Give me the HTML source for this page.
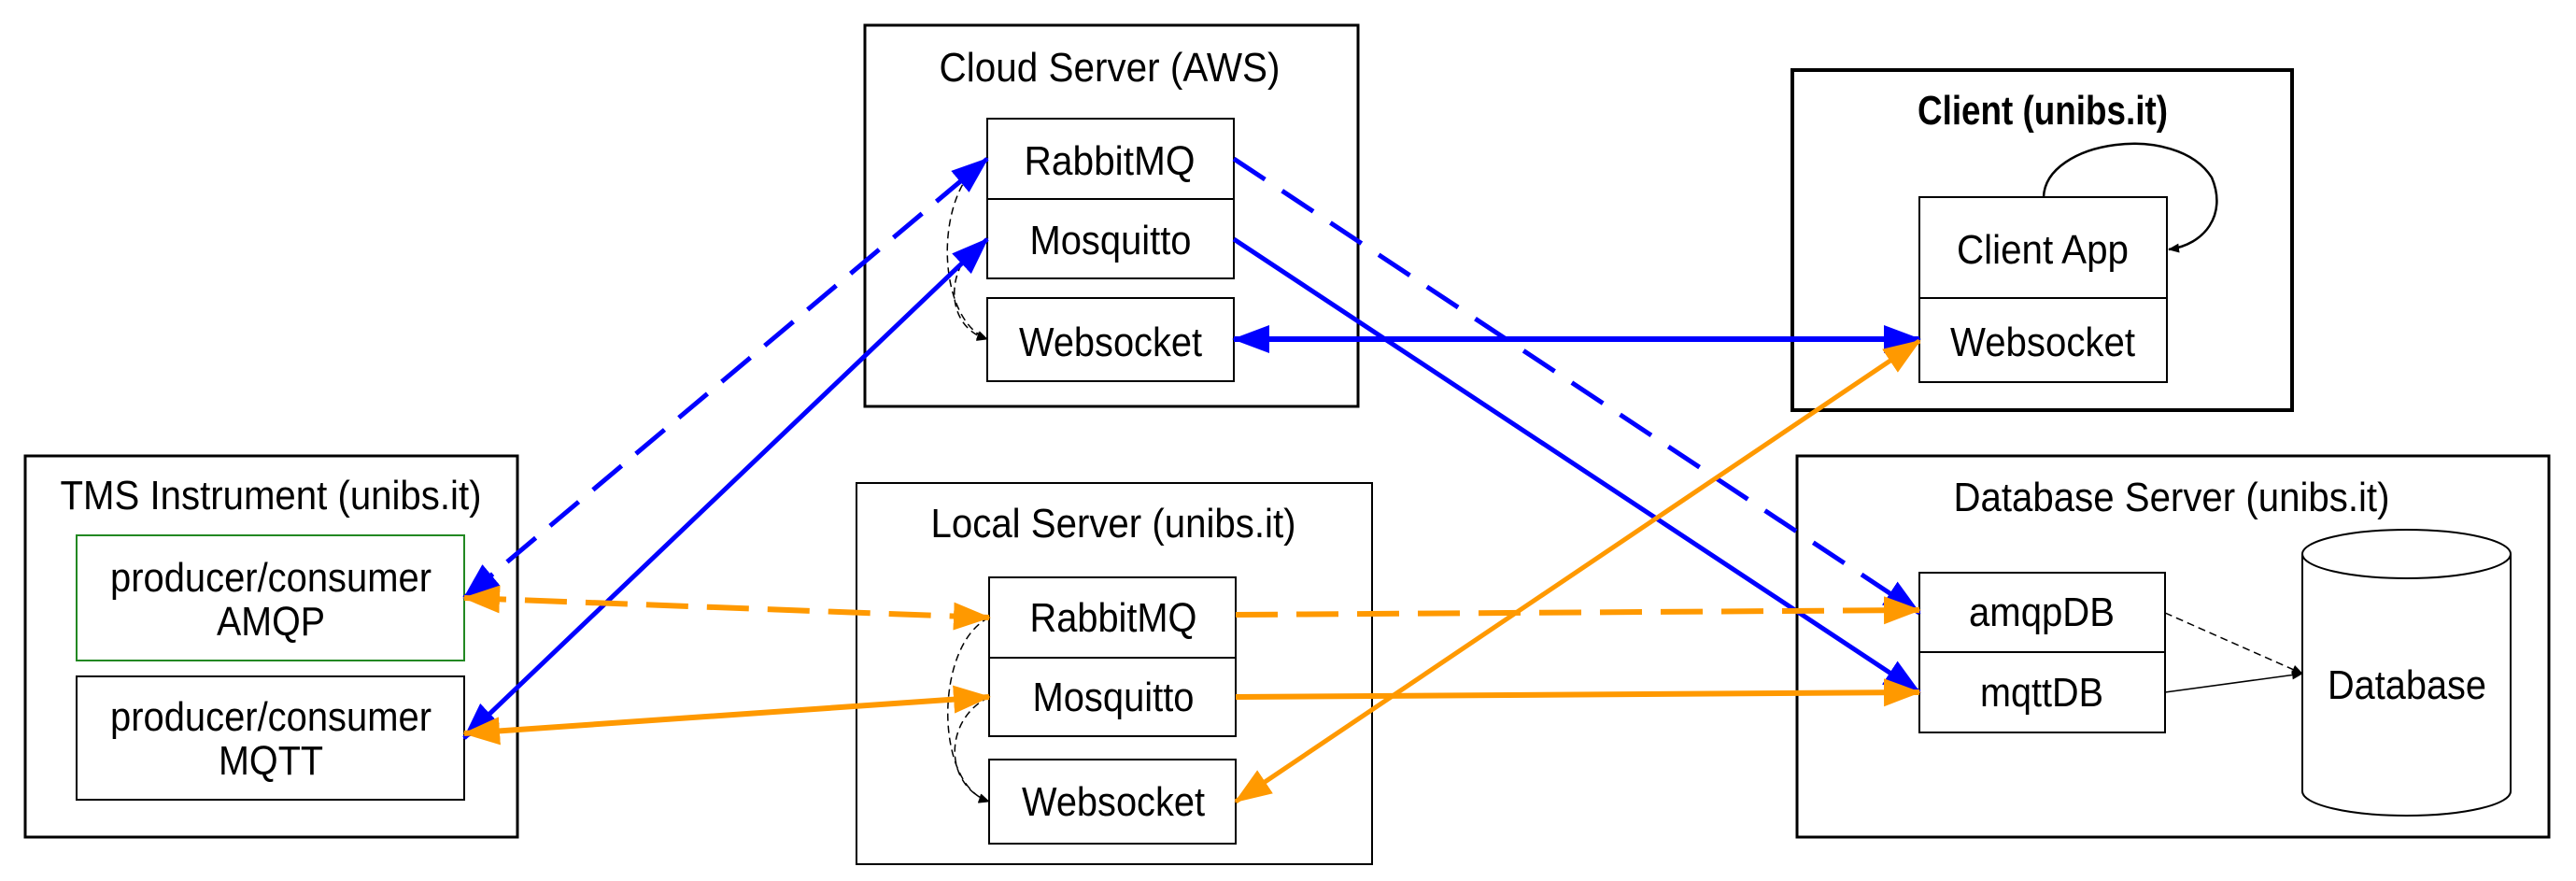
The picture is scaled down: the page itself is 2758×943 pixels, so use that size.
<!DOCTYPE html>
<html><head><meta charset="utf-8"><style>html,body{margin:0;padding:0;background:#fff}svg{display:block}</style></head>
<body>
<svg width="2758" height="943" viewBox="0 0 2758 943" xmlns="http://www.w3.org/2000/svg" font-family="Liberation Sans, Arial, sans-serif" font-size="44">
<defs>
<marker id="bh" markerUnits="userSpaceOnUse" markerWidth="40" markerHeight="30" refX="38" refY="15" orient="auto-start-reverse"><path d="M0,0 L40,15 L0,30 Z" fill="#0000ff"/></marker>
<marker id="oh" markerUnits="userSpaceOnUse" markerWidth="40" markerHeight="30" refX="38" refY="15" orient="auto-start-reverse"><path d="M0,0 L40,15 L0,30 Z" fill="#ff9900"/></marker>
<marker id="kh" markerUnits="userSpaceOnUse" markerWidth="12" markerHeight="10" refX="11" refY="5" orient="auto"><path d="M0,0 L12,5 L0,10 Z" fill="#000"/></marker>
</defs>
<g fill="#fff" stroke="#000" stroke-width="2">
<rect x="926" y="27" width="528" height="408" stroke-width="3"/>
<rect x="27" y="488" width="527" height="408" stroke-width="3"/>
<rect x="917" y="517" width="552" height="408" stroke-width="2"/>
<rect x="1919" y="75" width="535" height="364" stroke-width="4"/>
<rect x="1924" y="488" width="805" height="408" stroke-width="3"/>
<rect x="1057" y="127" width="264" height="86"/>
<rect x="1057" y="213" width="264" height="85"/>
<rect x="1057" y="319" width="264" height="89"/>
<rect x="82" y="573" width="415" height="134" stroke="#228822"/>
<rect x="82" y="724" width="415" height="132"/>
<rect x="1059" y="618" width="264" height="86"/>
<rect x="1059" y="704" width="264" height="84"/>
<rect x="1059" y="813" width="264" height="90"/>
<rect x="2055" y="211" width="265" height="108"/>
<rect x="2055" y="319" width="265" height="90"/>
<rect x="2055" y="613" width="263" height="85"/>
<rect x="2055" y="698" width="263" height="86"/>
<path d="M2465,593 L2465,847 A111.5,26 0 0 0 2688,847 L2688,593"/>
<ellipse cx="2576.5" cy="593" rx="111.5" ry="26"/>
</g>
<!-- thin black connectors -->
<g fill="none" stroke="#000" stroke-width="1.5">
<path d="M1057,170 C1000,200 1000,340 1057,363" stroke-dasharray="8,5" marker-end="url(#kh)"/>
<path d="M1057,256 C1010,280 1010,350 1057,363" stroke-dasharray="8,5" marker-end="url(#kh)"/>
<path d="M1059,661 C1000,690 1000,840 1059,858" stroke-dasharray="8,5" marker-end="url(#kh)"/>
<path d="M1059,746 C1010,770 1010,840 1059,858" stroke-dasharray="8,5" marker-end="url(#kh)"/>
<path d="M2318,656 L2465,721" stroke-dasharray="8,5" marker-end="url(#kh)"/>
<path d="M2318,741 L2465,721" marker-end="url(#kh)"/>
<path d="M2188,211 C2190,150 2330,130 2368,190 C2385,230 2360,262 2322,267" stroke-width="2.5" marker-end="url(#kh)"/>
</g>
<!-- blue -->
<g fill="none" stroke="#0000ff" stroke-width="5">
<path d="M497,640 L1057,170" stroke-dasharray="40,20" marker-start="url(#bh)" marker-end="url(#bh)"/>
<path d="M497,790 L1057,256" marker-start="url(#bh)" marker-end="url(#bh)"/>
<path d="M1321,170 L2055,656" stroke-dasharray="40,22" marker-end="url(#bh)"/>
<path d="M1321,256 L2055,741" marker-end="url(#bh)"/>
<path d="M1321,363 L2055,363" stroke-width="6" marker-start="url(#bh)" marker-end="url(#bh)"/>
</g>
<!-- orange -->
<g fill="none" stroke="#ff9900" stroke-width="6">
<path d="M497,640 L1059,661" stroke-dasharray="45,20" marker-start="url(#oh)" marker-end="url(#oh)"/>
<path d="M497,785 L1059,746" marker-start="url(#oh)" marker-end="url(#oh)"/>
<path d="M1323,658 L2055,653" stroke-dasharray="45,20" marker-end="url(#oh)"/>
<path d="M1323,746 L2055,741" marker-end="url(#oh)"/>
<path d="M1323,858 L2055,365" stroke-width="5" marker-start="url(#oh)" marker-end="url(#oh)"/>
</g>
<g fill="#000" text-anchor="middle" lengthAdjust="spacingAndGlyphs">
<text x="1188" y="87" textLength="365" lengthAdjust="spacingAndGlyphs">Cloud Server (AWS)</text>
<text x="1188" y="187" textLength="183" lengthAdjust="spacingAndGlyphs">RabbitMQ</text>
<text x="1189" y="272" textLength="173" lengthAdjust="spacingAndGlyphs">Mosquitto</text>
<text x="1189" y="381" textLength="196" lengthAdjust="spacingAndGlyphs">Websocket</text>
<text x="290" y="545" textLength="451" lengthAdjust="spacingAndGlyphs">TMS Instrument (unibs.it)</text>
<text x="290" y="633" textLength="344" lengthAdjust="spacingAndGlyphs">producer/consumer</text>
<text x="290" y="680" textLength="116" lengthAdjust="spacingAndGlyphs">AMQP</text>
<text x="290" y="782" textLength="344" lengthAdjust="spacingAndGlyphs">producer/consumer</text>
<text x="290" y="829" textLength="112" lengthAdjust="spacingAndGlyphs">MQTT</text>
<text x="1192" y="575" textLength="391" lengthAdjust="spacingAndGlyphs">Local Server (unibs.it)</text>
<text x="1192" y="676" textLength="179" lengthAdjust="spacingAndGlyphs">RabbitMQ</text>
<text x="1192" y="761" textLength="173" lengthAdjust="spacingAndGlyphs">Mosquitto</text>
<text x="1192" y="873" textLength="196" lengthAdjust="spacingAndGlyphs">Websocket</text>
<text x="2187" y="133" textLength="268" lengthAdjust="spacingAndGlyphs" font-weight="bold">Client (unibs.it)</text>
<text x="2187" y="282" textLength="184" lengthAdjust="spacingAndGlyphs">Client App</text>
<text x="2187" y="381" textLength="198" lengthAdjust="spacingAndGlyphs">Websocket</text>
<text x="2325" y="547" textLength="467" lengthAdjust="spacingAndGlyphs">Database Server (unibs.it)</text>
<text x="2186" y="670" textLength="156" lengthAdjust="spacingAndGlyphs">amqpDB</text>
<text x="2186" y="756" textLength="132" lengthAdjust="spacingAndGlyphs">mqttDB</text>
<text x="2577" y="748" textLength="170" lengthAdjust="spacingAndGlyphs">Database</text>
</g>
</svg>
</body></html>
